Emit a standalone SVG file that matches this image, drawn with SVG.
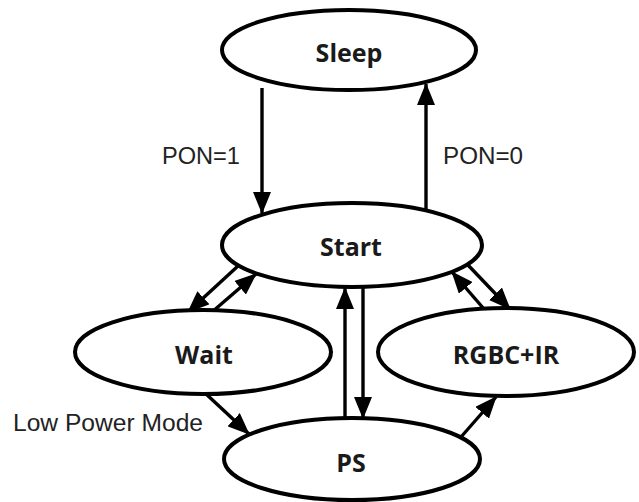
<svg xmlns="http://www.w3.org/2000/svg" width="639" height="502" viewBox="0 0 639 502">
<defs>
<style>
.node{fill:#fff;stroke:#000;stroke-width:4}
.nl{font-family:"Open Sans","DejaVu Sans",sans-serif;font-weight:700;font-size:25px;fill:#1a1a1a;text-anchor:middle}
.lbl{font-family:"Liberation Sans",Arial,sans-serif;font-size:23px;fill:#222}
.c{stroke:#000;stroke-width:3.4;fill:none;marker-end:url(#ah)}
</style>
<marker id="ah" markerUnits="userSpaceOnUse" markerWidth="22" markerHeight="18" refX="21" refY="9" orient="auto">
<path d="M0,0 L22,9 L0,18 z" fill="#000"/>
</marker>
</defs>
<rect width="639" height="502" fill="#fff"/>
<g id="connectors">
<line class="c" x1="262" y1="88" x2="262" y2="213"/>
<line class="c" x1="426" y1="213" x2="426" y2="84"/>
<line class="c" x1="238" y1="266" x2="188" y2="312"/>
<line class="c" x1="212" y1="312" x2="256" y2="274"/>
<line class="c" x1="484" y1="309" x2="452" y2="272"/>
<line class="c" x1="467" y1="264" x2="510" y2="309"/>
<line class="c" x1="345" y1="418" x2="345" y2="288"/>
<line class="c" x1="363" y1="288" x2="363" y2="418"/>
<line class="c" x1="205" y1="393" x2="249" y2="434"/>
<line class="c" x1="461" y1="437" x2="496" y2="397"/>
</g>
<g id="labels">
<text class="lbl" x="162" y="164" textLength="78" lengthAdjust="spacingAndGlyphs">PON=1</text>
<text class="lbl" x="443" y="164" textLength="80" lengthAdjust="spacingAndGlyphs">PON=0</text>
<text class="lbl" x="13" y="431" textLength="190" lengthAdjust="spacingAndGlyphs">Low Power Mode</text>
</g>
<g id="sleep"><ellipse class="node" cx="349" cy="50" rx="127" ry="40"/><text class="nl" x="349" y="62">Sleep</text></g>
<g id="start"><ellipse class="node" cx="352" cy="245" rx="130" ry="42"/><text class="nl" x="351" y="256">Start</text></g>
<g id="wait"><ellipse class="node" cx="203" cy="352" rx="128" ry="42"/><text class="nl" x="204" y="364">Wait</text></g>
<g id="rgbc"><ellipse class="node" cx="506" cy="352" rx="128" ry="44"/><text class="nl" x="506" y="364">RGBC+IR</text></g>
<g id="ps"><ellipse class="node" cx="352" cy="459" rx="128" ry="41"/><text class="nl" x="351" y="472">PS</text></g>
</svg>
